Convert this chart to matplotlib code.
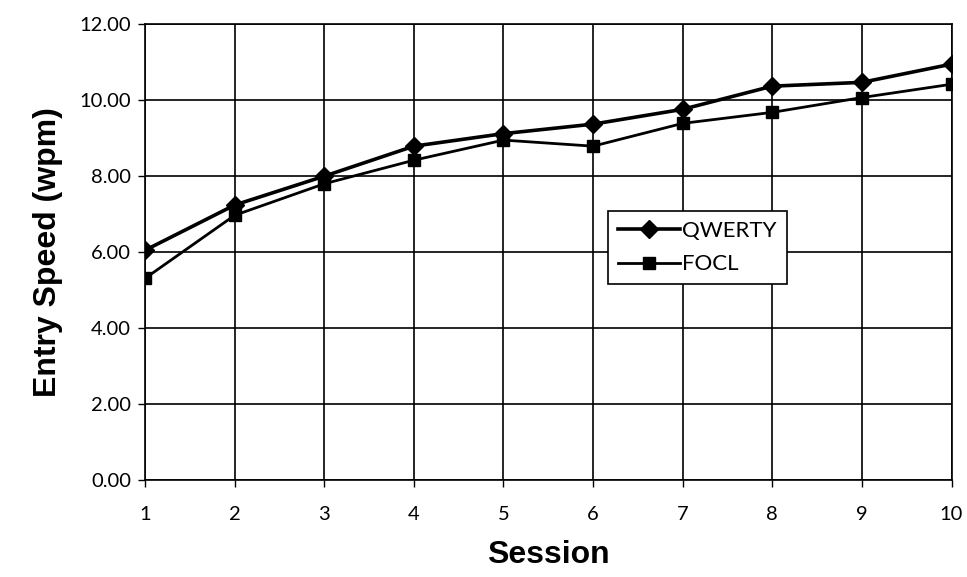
import matplotlib
matplotlib.use("Agg")
import matplotlib.pyplot as plt
from matplotlib.ticker import FormatStrFormatter

sessions = [1, 2, 3, 4, 5, 6, 7, 8, 9, 10]
qwerty = [6.05, 7.24, 8.00, 8.79, 9.12, 9.37, 9.76, 10.37, 10.47, 10.95]
focl = [5.31, 6.97, 7.80, 8.42, 8.95, 8.79, 9.39, 9.68, 10.07, 10.42]

fig = plt.figure(figsize=(9.67, 5.77), dpi=100)
ax = fig.add_axes([0.15, 0.168, 0.834, 0.79])

ax.plot(sessions, qwerty, color="black", lw=2.6, marker="D", ms=9, label="QWERTY")
ax.plot(sessions, focl, color="black", lw=2.0, marker="s", ms=9, label="FOCL")

ax.set_xlim(1, 10)
ax.set_ylim(0, 12)
ax.set_xticks(sessions)
ax.set_yticks([0, 2, 4, 6, 8, 10, 12])
ax.yaxis.set_major_formatter(FormatStrFormatter("%.2f"))
ax.grid(True, color="black", lw=1.2)
ax.set_axisbelow(True)
for s in ax.spines.values():
    s.set_color("black")
    s.set_linewidth(1.2)
ax.tick_params(direction="out", length=5, width=1, labelsize=14.5)
ax.tick_params(axis="x", pad=14)
ax.tick_params(axis="y", pad=5)
for lab in ax.get_xticklabels() + ax.get_yticklabels():
    lab.set_family("Lato")

ax.set_xlabel("Session", family="Liberation Sans", fontsize=23, fontweight="bold", labelpad=12)
ax.set_ylabel("Entry Speed (wpm)", family="Liberation Sans", fontsize=23, fontweight="bold", labelpad=12)

leg = ax.legend(loc="upper left", bbox_to_anchor=(0.574, 0.59), frameon=True, fancybox=False,
                edgecolor="black", framealpha=1, prop={"family": "Lato", "size": 16},
                handlelength=2.8, handletextpad=0.1, borderpad=0.45, labelspacing=0.6,
                borderaxespad=0)
leg.get_frame().set_linewidth(1.2)

fig.savefig("out.png", dpi=100)
